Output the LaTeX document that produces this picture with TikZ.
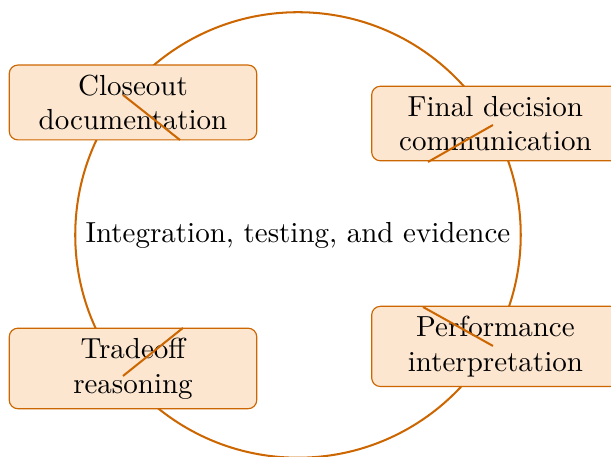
\documentclass[tikz,border=0pt]{standalone}
\usepackage{tikz}
\usepackage{xcolor}
\usetikzlibrary{positioning,calc}

\definecolor{accent}{RGB}{204,102,0}
\definecolor{boxfill}{RGB}{253,230,208}

\begin{document}
\begin{tikzpicture}[
          phase/.style={rectangle, rounded corners=3pt, draw=accent, fill=boxfill, minimum width=3cm, align=center, font=\normalsize},
          ring/.style={draw=accent, line width=0.7pt},
          link/.style={accent, line width=0.7pt}
        ]
          \useasboundingbox (-3.612,-2.691) rectangle (3.794,2.848);

          % Cycle
          \draw[ring] (0,0) circle (2.70cm);
          \node (hub) at (0,0) {Integration, testing, and evidence};

          % Phases
          \node[phase] (closeout) at (-2.0,1.606) {Closeout\\documentation};
          \node[phase] (final) at (2.393,1.351) {Final decision\\communication};
          \node[phase] (tradeoff) at (-2.0,-1.618) {Tradeoff\\reasoning};
          \node[phase] (perf) at (2.393,-1.351) {Performance\\interpretation};

          % Connector stubs
          \coordinate (c1) at (-2.121,1.697);
          \coordinate (c2) at (-1.430,1.151);
          \coordinate (f1) at (2.363,1.333);
          \coordinate (f2) at (1.576,0.885);
          \coordinate (t1) at (-1.394,-1.127);
          \coordinate (t2) at (-2.121,-1.709);
          \coordinate (p1) at (1.515,-0.873);
          \coordinate (p2) at (2.363,-1.345);

          \draw[link] (c1) -- (c2);
          \draw[link] (f1) -- (f2);
          \draw[link] (t1) -- (t2);
          \draw[link] (p1) -- (p2);

        \end{tikzpicture}
\end{document}
